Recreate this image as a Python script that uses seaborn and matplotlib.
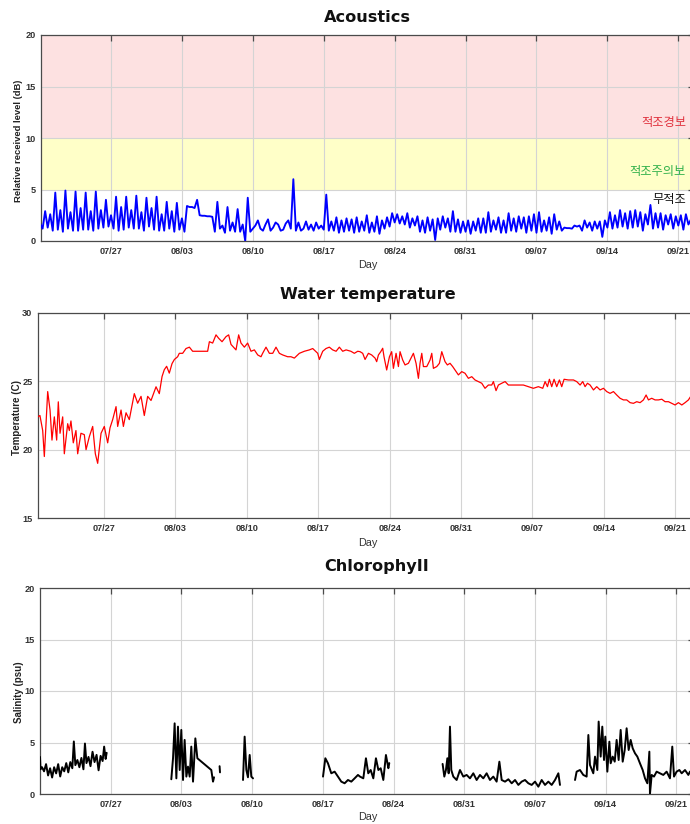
import numpy as np
import pandas as pd
import matplotlib
matplotlib.use("Agg")
import matplotlib.pyplot as plt
import seaborn as sns

# ---------------------------------------------------------------- data
START = pd.Timestamp("2019-07-20")
tick_days = [7, 14, 21, 28, 35, 42, 49, 56, 63]
tick_labels = ["07/27", "08/03", "08/10", "08/17", "08/24", "08/31", "09/07", "09/14", "09/21"]

# Acoustic relative received level (dB), 6-hourly samples from 07/20 00:00
acoustic_step_days = 0.25
acoustic_db = [
    1.7, 1.2, 2.9, 1.3,  2.6, 1.0, 4.7, 1.1,  3.0, 0.9, 4.9, 1.2,  2.8, 1.0, 4.8, 1.0,
    3.2, 1.1, 4.7, 1.1,  2.9, 1.0, 4.8, 1.2,  3.0, 1.3, 4.0, 1.4,  2.5, 1.2, 4.3, 1.0,
    3.3, 1.1, 4.3, 1.3,  3.0, 1.2, 4.4, 1.2,  2.8, 1.0, 4.2, 1.4,  3.2, 1.1, 4.3, 1.0,
    2.6, 1.0, 3.8, 1.2,  2.9, 0.9, 3.7, 1.1,  2.2, 0.9, 3.4, 3.3,  3.3, 3.2, 4.0, 2.5,
    2.45, 2.45, 2.4, 2.4, 2.35, 0.9, 3.8, 1.2, 1.5, 0.8, 3.3, 1.0,  1.8, 0.9, 3.1, 0.9,
    1.6, 0.0, 4.2, 0.9,  1.2, 1.5, 2.0, 1.2,  1.0, 1.6, 2.1, 1.0,  1.3, 1.8, 1.6, 1.0,
    1.1, 1.7, 2.0, 1.2,  6.0, 1.0, 1.8, 1.0,  1.2, 1.9, 1.1, 1.6,  1.0, 1.8, 1.2, 1.5,
    1.1, 4.5, 1.0, 1.9,  1.0, 2.3, 0.8, 2.0,  0.9, 2.2, 1.0, 2.1,  0.8, 2.3, 0.9, 1.9,
    1.0, 2.5, 0.8, 1.8,  0.9, 2.4, 0.7, 2.0,  1.2, 2.3, 1.4, 2.7,  1.8, 2.6, 1.7, 2.4,
    1.6, 2.7, 1.3, 2.2,  1.5, 2.4, 0.9, 2.0,  0.8, 2.3, 1.0, 2.1,  0.1, 2.2, 1.1, 2.4,
    1.3, 2.2, 0.9, 2.9,  0.9, 2.1, 0.8, 1.9,  0.9, 2.0, 0.7, 1.9,  1.0, 2.2, 0.8, 2.2,
    0.8, 2.8, 0.9, 2.0,  1.1, 2.3, 0.8, 2.0,  0.8, 2.7, 1.0, 2.2,  0.9, 2.4, 1.2, 2.3,
    0.8, 2.4, 1.0, 2.6,  0.8, 2.8, 0.9, 2.0,  1.0, 2.3, 0.7, 2.6,  1.1, 1.9, 1.0, 1.3,
    1.25, 1.25, 1.2, 1.5, 1.4, 1.5, 1.0, 2.0, 1.3, 1.8, 1.0, 1.9,  1.2, 1.9, 0.4, 2.0,
    1.3, 2.8, 1.2, 2.5,  1.3, 3.0, 1.4, 2.7,  1.2, 2.9, 1.3, 3.0,  1.4, 2.8, 1.0, 2.6,
    1.6, 3.5, 1.2, 2.7,  1.3, 2.7, 1.1, 2.5,  1.6, 2.6, 1.2, 2.4,  1.5, 2.5, 1.1, 2.6,
    1.6, 2.1, 1.9,
]

# Water temperature (deg C): sample day (since 07/20) and value
temp_day = [
    0.50, 0.72, 0.99, 1.15, 1.48, 1.71, 1.90, 2.13, 2.36, 2.52, 2.69, 2.95, 3.11, 3.44,
    3.60, 3.76, 3.99, 4.25, 4.42, 4.74, 5.07, 5.24, 5.56, 5.89, 6.15, 6.38, 6.71, 7.03,
    7.36, 7.59, 7.85, 8.18, 8.34, 8.67, 8.90, 9.16, 9.48, 9.97, 10.30, 10.63, 10.95,
    11.28, 11.61, 12.10, 12.42, 12.69, 12.91, 13.14, 13.40, 13.67, 13.90, 14.22, 14.38,
    14.71, 15.04, 15.37, 15.69, 17.16, 17.33, 17.65, 17.98, 18.24, 18.57, 18.96, 19.22,
    19.45, 19.94, 20.20, 20.43, 20.76, 21.08, 21.41, 21.74, 22.07, 22.39, 22.55, 22.88,
    23.21, 23.54, 23.86, 24.19, 24.52, 25.00, 25.33, 25.66, 26.15, 26.64, 27.13, 27.46,
    27.95, 28.11, 28.44, 28.76, 29.09, 29.42, 29.75, 30.07, 30.40, 30.73, 31.20, 31.54,
    31.87, 32.10, 32.36, 32.59, 32.92, 33.24, 33.57, 33.73, 33.90, 34.13, 34.32, 34.45,
    34.71, 34.98, 35.20, 35.37, 35.63, 35.86, 36.02, 36.28, 36.51, 36.84, 37.00, 37.33,
    37.59, 37.82, 37.98, 38.15, 38.31, 38.64, 38.96, 39.13, 39.29, 39.62, 39.88, 40.11,
    40.43, 40.66, 40.92, 41.18, 41.41, 41.74, 42.07, 42.39, 42.72, 43.05, 43.37, 43.70,
    44.03, 44.35, 44.68, 45.01, 45.17, 45.43, 45.66, 45.99, 46.32, 46.64, 47.13, 47.62,
    48.11, 48.60, 49.09, 49.58, 50.01, 50.24, 50.47, 50.66, 50.89, 51.12, 51.38, 51.64,
    51.87, 52.10, 52.52, 53.02, 53.34, 53.67, 53.93, 54.16, 54.39, 54.65, 54.98, 55.30,
    55.63, 55.96, 56.28, 56.61, 56.94, 57.26, 57.59, 57.92, 58.24, 58.57, 58.90, 59.22,
    59.55, 59.88, 60.14, 60.37, 60.69, 61.02, 61.35, 61.68, 62.00, 62.33, 62.66, 62.98,
    63.31, 63.64, 63.96, 64.29, 64.60,
]
temp_c = [
    22.4, 22.5, 21.4, 19.5, 24.25, 22.9, 20.7, 22.4, 20.7, 23.5, 21.2, 22.4, 19.7, 21.9,
    21.4, 22.1, 20.5, 21.4, 19.7, 21.2, 21.1, 20.0, 20.95, 21.7, 19.7, 19.0, 21.2, 21.7,
    20.5, 21.6, 22.2, 23.15, 21.7, 22.9, 21.7, 22.7, 22.2, 24.1, 23.4, 23.9, 22.5,
    23.9, 23.6, 24.6, 24.1, 25.35, 25.85, 26.1, 25.6, 26.3, 26.6, 26.8, 27.05,
    27.05, 27.4, 27.5, 27.2, 27.2, 27.9, 27.8, 28.4, 28.15, 27.9, 28.27, 28.4,
    27.7, 27.3, 28.4, 27.8, 27.5, 27.8, 27.2, 27.3, 26.93, 26.8, 27.05, 27.5,
    27.05, 27.05, 27.5, 27.05, 26.93, 26.8, 26.8, 26.7, 27.05, 27.2, 27.3, 27.4,
    27.05, 26.6, 27.2, 27.4, 27.5, 27.3, 27.2, 27.5, 27.2, 27.3, 27.2, 27.05,
    27.2, 27.17, 27.05, 26.6, 27.05, 26.93, 26.7, 26.44, 26.93, 27.17, 27.42, 26.8,
    25.83, 26.8, 27.17, 25.95, 27.05, 26.08, 27.17, 26.56, 26.2, 26.32, 26.56, 27.05,
    26.32, 25.22, 26.32, 27.05, 26.08, 26.08, 26.56, 27.05, 25.95, 26.08, 26.32, 27.17,
    26.44, 26.2, 26.32, 26.08, 25.83, 25.47, 25.71, 25.59, 25.22, 25.34, 25.1, 24.98,
    24.86, 24.49, 24.73, 24.73, 24.98, 24.32, 24.73, 24.86, 24.98, 24.73, 24.73, 24.73,
    24.73, 24.61, 24.49, 24.61, 24.49, 24.98, 24.61, 25.15, 24.61, 25.15, 24.61, 25.1,
    24.61, 25.15, 25.1, 25.1, 24.98, 24.73, 24.98, 24.61, 24.86, 24.73, 24.37, 24.61,
    24.37, 24.49, 24.25, 24.12, 24.25, 24.0, 23.76, 23.64, 23.64, 23.44, 23.39, 23.51,
    23.44, 23.64, 24.0, 23.64, 23.76, 23.64, 23.64, 23.69, 23.51, 23.51, 23.39, 23.27,
    23.44, 23.27, 23.44, 23.64, 24.0,
]

# Chlorophyll record (NaN marks a gap in the record)
chl_day = [
    0.00, 0.05, 0.2, 0.4, 0.6, 0.8, 1.0, 1.2, 1.4, 1.6, 1.8, 2.0, 2.2, 2.4, 2.6, 2.8,
    3.0, 3.2, 3.35, 3.5, 3.7, 3.9, 4.1, 4.3, 4.45, 4.6, 4.8, 5.0, 5.2, 5.4, 5.6, 5.8,
    6.0, 6.2, 6.35, 6.5, 6.6, np.nan,
    13.0, 13.17, 13.33, 13.5, 13.66, 13.83, 13.99, 14.16, 14.32, 14.49, 14.65, 14.82,
    14.98, 15.15, 15.38, 15.58, 16.96, 17.13, 17.23, np.nan,
    17.78, 17.82, np.nan,
    20.10, 20.26, 20.43, 20.59, 20.76, 20.92, 21.09, np.nan,
    28.02, 28.25, 28.51, 28.84, 29.17, 29.50, 29.83, 30.16, 30.49, 30.82, 31.15, 31.48,
    31.68, 32.01, 32.27, 32.50, 32.74, 33.00, 33.26, 33.50, 33.73, 33.99, 34.25, 34.49,
    34.58, np.nan,
    39.86, 40.03, 40.19, 40.33, 40.46, 40.59, 40.72, 40.92, 41.25, 41.58, 41.91, 42.24,
    42.57, 42.90, 43.23, 43.56, 43.89, 44.22, 44.55, 44.88, 45.21, 45.48, 45.71, 46.04,
    46.37, 46.70, 47.03, 47.36, 47.69, 48.02, 48.35, 48.68, 49.01, 49.34, 49.67, 50.00,
    50.33, 50.66, 50.99, 51.32, 51.48, np.nan,
    52.97, 53.13, 53.46, 53.79, 54.12, 54.29, 54.45, 54.78, 54.95, 55.18, 55.31, 55.51,
    55.67, 55.84, 55.97, 56.17, 56.37, 56.50, 56.70, 56.90, 57.09, 57.29, 57.49, 57.69,
    57.89, 58.08, 58.28, 58.48, 58.68, 58.91, 59.14, 59.40, 59.67, 59.90, 60.13, 60.33,
    60.39, 60.56, 60.79, 61.05, 61.38, 61.71, 62.04, 62.37, 62.60, 62.77, 63.03, 63.30,
    63.53, 63.86, 64.19, 64.35, 64.75,
]
chl_value = [
    3.6, 2.4, 2.6, 2.2, 2.9, 1.8, 2.5, 1.6, 2.6, 2.0, 2.9, 1.7, 2.6, 2.2, 3.0, 2.1,
    3.1, 2.5, 5.1, 2.8, 3.3, 2.6, 3.5, 2.4, 4.9, 3.0, 3.6, 2.7, 4.1, 3.1, 3.8, 2.3,
    3.7, 3.2, 4.6, 3.4, 4.0, np.nan,
    1.43, 3.47, 6.86, 1.52, 6.54, 2.33, 6.22, 1.36, 5.25, 1.69, 2.66, 1.69,
    4.6, 1.2, 5.4, 3.47, 2.33, 1.2, 1.62, np.nan,
    2.7, 2.1, np.nan,
    1.36, 5.57, 2.33, 1.62, 3.79, 1.69, 1.52, np.nan,
    1.69, 3.47, 2.98, 2.01, 2.17, 1.69, 1.2, 1.04, 1.36, 1.2, 1.52, 1.85,
    1.69, 1.52, 3.47, 2.01, 2.33, 1.52, 3.47, 2.33, 2.5, 1.36, 3.79, 2.5,
    3.0, np.nan,
    2.92, 1.69, 2.33, 3.47, 2.01, 6.54, 2.33, 1.69, 1.36, 2.33, 1.69, 1.85,
    1.52, 2.01, 1.36, 1.85, 1.52, 2.01, 1.36, 1.69, 1.2, 3.14, 1.36, 1.2,
    1.43, 1.04, 1.36, 0.88, 1.2, 1.36, 1.04, 0.88, 1.2, 0.71, 1.36, 0.88,
    1.2, 0.88, 1.36, 2.01, 0.88, np.nan,
    1.36, 2.17, 2.33, 1.85, 1.69, 5.73, 2.82, 2.01, 3.63, 2.33, 7.03, 3.63,
    6.54, 3.3, 5.57, 2.17, 5.08, 2.98, 3.63, 3.14, 5.25, 3.3, 6.22, 3.14,
    4.27, 6.38, 4.27, 5.25, 4.44, 3.95, 3.63, 2.98, 2.33, 1.52, 1.04, 4.11,
    0.0, 1.85, 1.69, 2.17, 2.01, 1.85, 2.17, 1.52, 4.6, 1.69, 2.17, 2.33,
    2.01, 2.33, 1.85, 2.17, 2.2,
]

# alert bands on the acoustic panel: (low, high, face colour)
alert_bands = [(10, 20, "#fde1e1"), (5, 10, "#ffffc8")]
alert_labels = ["적조경보", "적조주의보", "무적조"]
alert_label_levels = [11.5, 6.7, 4.0]
alert_label_colors = ["#e0303c", "#2fb04a", "#111111"]


def to_dates(days):
    return START + pd.to_timedelta(np.asarray(days, dtype=float), unit="D")


# ---------------------------------------------------------------- style
sns.set_theme(style="white")
plt.rcParams["font.family"] = ["Liberation Sans", "Noto Sans CJK KR", "DejaVu Sans"]
plt.rcParams["axes.edgecolor"] = "#4a4a4a"
plt.rcParams["axes.linewidth"] = 0.9

W, H = 690, 824
fig = plt.figure(figsize=(W / 100, H / 100), dpi=100)


def add_axes(left, top, right, bottom):
    return fig.add_axes([left / W, 1 - bottom / H, (right - left) / W, (bottom - top) / H])


ax1 = add_axes(41, 35, 694, 241)
ax2 = add_axes(38, 313, 697, 518)
ax3 = add_axes(40, 588, 694, 794)

# acoustic panel
for lo, hi, fc in alert_bands:
    ax1.axhspan(lo, hi, facecolor=fc, edgecolor="none", zorder=0.2)
ac_days = np.arange(len(acoustic_db)) * acoustic_step_days
sns.lineplot(x=to_dates(ac_days), y=acoustic_db, ax=ax1, color="#0000ff",
             linewidth=1.35, estimator=None, zorder=3)
for txt, lvl, col in zip(alert_labels, alert_label_levels, alert_label_colors):
    ax1.text(to_dates([63.75])[0], lvl, txt, color=col, fontsize=8.8, ha="right",
             va="center", family=["Noto Sans CJK KR"], zorder=5)

# water temperature panel
sns.lineplot(x=to_dates(temp_day), y=temp_c, ax=ax2, color="#ff0000",
             linewidth=0.9, estimator=None, zorder=3)

# chlorophyll panel, drawn segment by segment between gaps
chl = pd.DataFrame({"day": chl_day, "value": chl_value})
chl["segment"] = chl["value"].isna().cumsum()
chl = chl.dropna()
chl["date"] = to_dates(chl["day"])
sns.lineplot(data=chl, x="date", y="value", units="segment", estimator=None,
             ax=ax3, color="#000000", linewidth=1.4, zorder=3)

panels = [
    (ax1, (0.09, 64.55), (0, 20), [0, 5, 10, 15, 20]),
    (ax2, (0.53, 65.13), (15, 30), [15, 20, 25, 30]),
    (ax3, (0.0, 64.75), (0, 20), [0, 5, 10, 15, 20]),
]
for ax, xl, yl, yt in panels:
    ax.set_xlim(to_dates(xl))
    ax.set_ylim(*yl)
    ax.set_xticks(to_dates(tick_days))
    ax.set_xticklabels(tick_labels)
    ax.set_yticks(yt)
    ax.set_axisbelow(True)
    ax.grid(True, color="#d4d4d4", linewidth=0.8)
    ax.tick_params(direction="in", top=True, right=True, length=4, width=0.9,
                   color="#4a4a4a", labelsize=6.6, labelcolor="#333333", pad=4)
    for lab in ax.get_xticklabels() + ax.get_yticklabels():
        lab.set_fontweight("bold")
    ax.set_xlabel("")
    ax.set_ylabel("")
    ax.set_facecolor("white")
    for sp in ax.spines.values():
        sp.set_visible(True)

# axis captions
ylabels = [("Relative received level (dB)", 19, 141, 6.8),
           ("Temperature (C)", 17, 417, 7.0),
           ("Salinity (psu)", 19, 692, 7.0)]
for txt, x, y, fs in ylabels:
    fig.text(x / W, 1 - y / H, txt, rotation=90, fontsize=fs, fontweight="bold",
             color="#222222", ha="center", va="center")
for y in (265, 543, 817):
    fig.text(368 / W, 1 - y / H, "Day", fontsize=7.8, color="#333333",
             ha="center", va="center")

# panel titles
title_font = dict(family=["DejaVu Sans"], fontweight="bold", fontsize=11.6,
                  color="#111111", ha="center", va="center")
fig.text(367 / W, 1 - 18 / H, "Acoustics", **title_font)
fig.text(367.5 / W, 1 - 295 / H, "Water temperature", **title_font)
fig.text(376.5 / W, 1 - 566 / H, "ChlorophyII", **title_font)

fig.savefig("out.png", dpi=100, facecolor="white")
